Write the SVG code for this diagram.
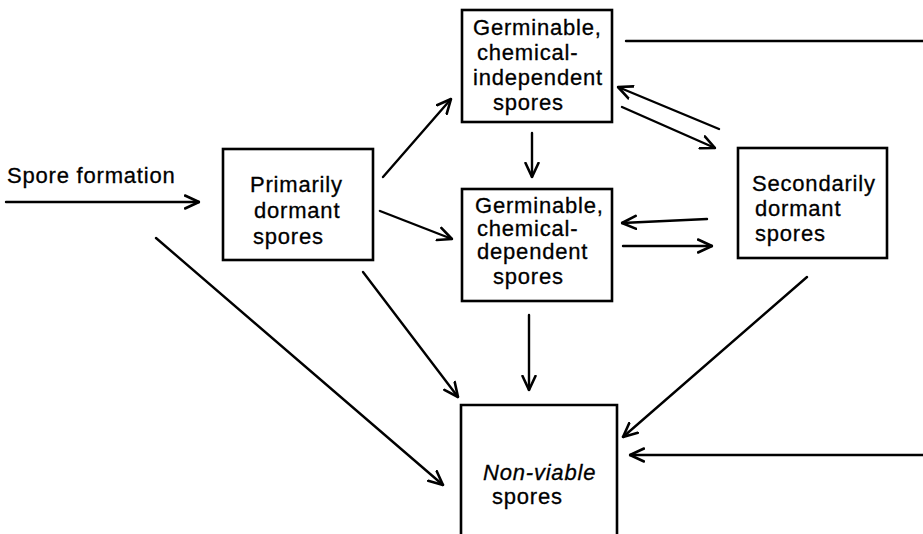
<svg xmlns="http://www.w3.org/2000/svg" width="923" height="534" viewBox="0 0 923 534">
<style>
.box{fill:none;stroke:#000;stroke-width:2.6}
.t{font-family:"Liberation Sans",Arial,sans-serif;font-size:22px;letter-spacing:0.8px;fill:#000;stroke:#000;stroke-width:0.3}
.i{font-style:italic}
.c{fill:none;stroke:#000;stroke-width:2.4;stroke-linecap:round}
</style>
<defs>
<marker id="ah" viewBox="0 0 16 16" refX="15" refY="8" markerWidth="16" markerHeight="16" markerUnits="userSpaceOnUse" orient="auto">
<path d="M1,1.5 L15,8 L1,14.5" fill="none" stroke="#000" stroke-width="2.6" stroke-linecap="round" stroke-linejoin="round"/>
</marker>
</defs>
<rect width="923" height="534" fill="#fff"/>

<g id="spore-formation">
<text class="t" x="7" y="183">Spore formation</text>
</g>

<g id="primarily-dormant">
<rect class="box" x="223" y="149" width="150" height="111"/>
<text class="t" x="250" y="192">Primarily</text>
<text class="t" x="254" y="218">dormant</text>
<text class="t" x="253" y="244">spores</text>
</g>

<g id="chem-independent">
<rect class="box" x="462" y="10" width="150" height="112"/>
<text class="t" x="473" y="35">Germinable,</text>
<text class="t" x="477" y="60">chemical-</text>
<text class="t" x="473" y="85">independent</text>
<text class="t" x="493" y="110">spores</text>
</g>

<g id="chem-dependent">
<rect class="box" x="462" y="189" width="150" height="112"/>
<text class="t" x="475" y="213">Germinable,</text>
<text class="t" x="477" y="236">chemical-</text>
<text class="t" x="477" y="259">dependent</text>
<text class="t" x="493" y="284">spores</text>
</g>

<g id="secondarily-dormant">
<rect class="box" x="738" y="148" width="149" height="110"/>
<text class="t" x="752" y="191">Secondarily</text>
<text class="t" x="755" y="216">dormant</text>
<text class="t" x="755" y="241">spores</text>
</g>

<g id="non-viable">
<path class="box" d="M461,540 V405 H617 V540"/>
<text class="t i" x="483" y="480">Non-viable</text>
<text class="t" x="492" y="504">spores</text>
</g>

<g id="connectors">
<line class="c" x1="6" y1="202" x2="199" y2="202" marker-end="url(#ah)"/>
<line class="c" x1="383" y1="177" x2="451" y2="99" marker-end="url(#ah)"/>
<line class="c" x1="380" y1="211" x2="452" y2="239" marker-end="url(#ah)"/>
<line class="c" x1="532" y1="133" x2="532" y2="177" marker-end="url(#ah)"/>
<line class="c" x1="719" y1="129" x2="618" y2="87" marker-end="url(#ah)"/>
<line class="c" x1="622" y1="107" x2="715" y2="148" marker-end="url(#ah)"/>
<line class="c" x1="707" y1="219" x2="622" y2="223" marker-end="url(#ah)"/>
<line class="c" x1="623" y1="246" x2="712" y2="246" marker-end="url(#ah)"/>
<line class="c" x1="529" y1="315" x2="529" y2="390" marker-end="url(#ah)"/>
<line class="c" x1="363" y1="272" x2="458" y2="397" marker-end="url(#ah)"/>
<line class="c" x1="156" y1="238" x2="443" y2="485" marker-end="url(#ah)"/>
<line class="c" x1="807" y1="277" x2="623" y2="437" marker-end="url(#ah)"/>
<line class="c" x1="925" y1="455" x2="630" y2="455" marker-end="url(#ah)"/>
<line class="c" x1="626" y1="41" x2="925" y2="41"/>
</g>
</svg>
